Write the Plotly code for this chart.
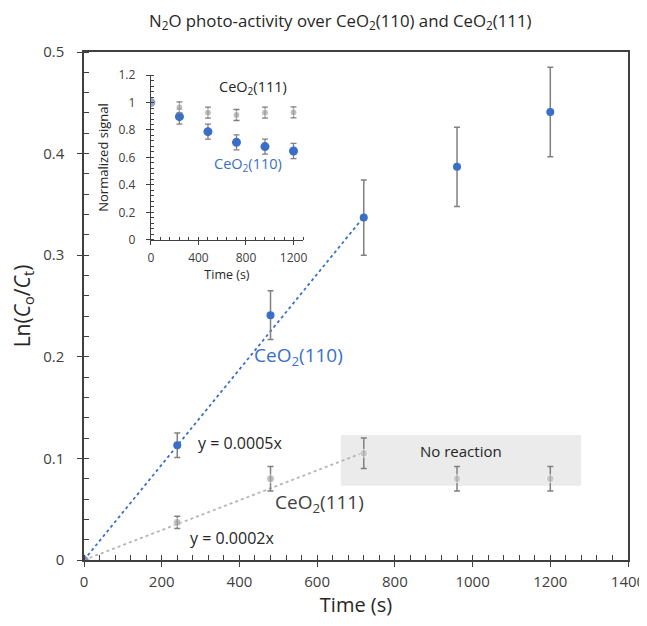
import plotly.graph_objects as go

# ---------------- data ----------------
time_s = [0, 240, 480, 720, 960, 1200]

ln_110 = [0.0, 0.113, 0.241, 0.337, 0.387, 0.441]
ln_110_err = [0.0, 0.012, 0.024, 0.037, 0.039, 0.044]

ln_111 = [0.0, 0.037, 0.080, 0.105, 0.080, 0.080]
ln_111_err = [0.0, 0.006, 0.012, 0.015, 0.012, 0.012]

norm_110 = [1.0, 0.897, 0.788, 0.710, 0.679, 0.647]
norm_110_err = [0.0, 0.055, 0.055, 0.055, 0.055, 0.055]
norm_111 = [1.0, 0.965, 0.926, 0.909, 0.926, 0.928]
norm_111_err = [0.0, 0.04, 0.04, 0.04, 0.04, 0.04]

trend_x = [0, 720]
slope_110 = 0.000469
slope_111 = 0.000147

no_reaction_x = [661, 1279]
no_reaction_y = [0.073, 0.123]

main_xticks = [0, 200, 400, 600, 800, 1000, 1200, 1400]
main_yticks = [0, 0.1, 0.2, 0.3, 0.4, 0.5]
inset_xticks = [0, 400, 800, 1200]
inset_yticks = [0, 0.2, 0.4, 0.6, 0.8, 1.0, 1.2]

# ---------------- style ----------------
FONT = "Open Sans"
AX = "#404040"
TXT = "#262626"
BLUE = "#3a6fc8"
GRAY = "#a6a6a6"
ERR = "#808080"

fig = go.Figure()

# trend lines
fig.add_trace(go.Scatter(x=trend_x, y=[slope_110 * v for v in trend_x], mode="lines",
                         line=dict(color=BLUE, width=1.8, dash="dot"), hoverinfo="skip",
                         showlegend=False))
fig.add_trace(go.Scatter(x=trend_x, y=[slope_111 * v for v in trend_x], mode="lines",
                         line=dict(color="#b5b5b5", width=1.8, dash="dot"), hoverinfo="skip",
                         showlegend=False))

# main data
fig.add_trace(go.Scatter(x=time_s, y=ln_110, mode="markers",
                         marker=dict(color=BLUE, size=8),
                         error_y=dict(type="data", array=ln_110_err, color=ERR, thickness=1.5, width=3),
                         showlegend=False))
fig.add_trace(go.Scatter(x=time_s, y=ln_111, mode="markers",
                         marker=dict(color=["#a0a0a0", "#a6a6a6", "#a6a6a6", "#bdbdbd", "#bdbdbd", "#bdbdbd"],
                                     size=[10, 8, 8, 8, 8, 8],
                                     symbol=["diamond", "circle", "circle", "circle", "circle", "circle"]),
                         error_y=dict(type="data", array=ln_111_err, color=ERR, thickness=1.5, width=3),
                         showlegend=False))

# inset data
fig.add_trace(go.Scatter(x=time_s, y=norm_110, mode="markers", xaxis="x2", yaxis="y2",
                         marker=dict(color=BLUE, size=9),
                         error_y=dict(type="data", array=norm_110_err, color=ERR, thickness=1.3, width=3),
                         showlegend=False))
fig.add_trace(go.Scatter(x=time_s, y=norm_111, mode="markers", xaxis="x2", yaxis="y2",
                         marker=dict(color=["#b4b8c8", GRAY, GRAY, GRAY, GRAY, GRAY], size=[10, 7, 7, 7, 7, 7]),
                         error_y=dict(type="data", array=norm_111_err, color=ERR, thickness=1.3, width=3),
                         showlegend=False))

# "No reaction" box
fig.add_shape(type="rect", xref="x", yref="y", x0=no_reaction_x[0], x1=no_reaction_x[1],
              y0=no_reaction_y[0], y1=no_reaction_y[1], fillcolor="#ebebeb", line=dict(width=0),
              layer="below")

tickfont = dict(family=FONT, size=15, color=AX)


def main_axis(rng, minor_dtick, tickvals):
    return dict(range=rng, tickvals=tickvals, ticks="outside", ticklen=5, tickwidth=1.3,
                tickcolor=AX, showline=True, linecolor=AX, linewidth=1.5, mirror=True,
                showgrid=False, zeroline=False, tickfont=tickfont, automargin=False,
                minor=dict(dtick=minor_dtick, ticks="inside", ticklen=5, tickwidth=1.2,
                           tickcolor=AX, showgrid=False))


xaxis = main_axis([0, 1400], 40, main_xticks)
xaxis.update(title=dict(text="Time (s)", font=dict(family=FONT, size=20, color=TXT), standoff=6),
             ticklabelstandoff=2)
yaxis = main_axis([0, 0.5], 0.02, main_yticks)
yaxis.update(title=dict(text="Ln(<i>C</i><sub>o</sub>/<i>C</i><sub>t</sub>)",
                        font=dict(family=FONT, size=21, color=TXT), standoff=12),
             ticklabelstandoff=10)

inset_font = dict(family=FONT, size=12, color=AX)

# the page body adds an 8 px offset, so the figure is 8 px smaller
fig.update_layout(
    width=639, height=618,
    margin=dict(l=76, r=19, t=44, b=66, autoexpand=False),
    paper_bgcolor="white", plot_bgcolor="white",
    font=dict(family=FONT, color=AX),
    title=dict(text="N<sub>2</sub>O photo-activity over CeO<sub>2</sub>(110) and CeO<sub>2</sub>(111)",
               x=0.52, xanchor="center", y=0.979, yanchor="middle",
               font=dict(family=FONT, size=16.8, color=TXT)),
    xaxis=xaxis,
    yaxis=yaxis,
    # overlay axes for crossing major ticks
    xaxis3=dict(overlaying="x", matches="x", range=[0, 1400], tickvals=main_xticks, ticks="inside",
                ticklen=5, tickwidth=1.3, tickcolor=AX, showticklabels=False, showline=False,
                showgrid=False, zeroline=False, anchor="y"),
    yaxis3=dict(overlaying="y", matches="y", range=[0, 0.5], tickvals=main_yticks, ticks="inside",
                ticklen=5, tickwidth=1.3, tickcolor=AX, showticklabels=False, showline=False,
                showgrid=False, zeroline=False, anchor="x"),
    xaxis2=dict(domain=[0.123, 0.4026], anchor="y2", range=[0, 1280], tickvals=inset_xticks,
                ticks="outside", ticklen=4, tickwidth=1.2, tickcolor=AX, automargin=False,
                showline=True, linecolor=AX, linewidth=1.3, showgrid=False, zeroline=False,
                tickfont=inset_font, ticklabelstandoff=2,
                minor=dict(dtick=80, ticks="inside", ticklen=3, tickwidth=1, tickcolor=AX),
                title=dict(text="Time (s)", font=dict(family=FONT, size=12.5, color=TXT), standoff=0)),
    yaxis2=dict(domain=[0.630, 0.9547], anchor="x2", range=[0, 1.2], tickvals=inset_yticks,
                ticks="outside", ticklen=4, tickwidth=1.2, tickcolor=AX, automargin=False,
                showline=True, linecolor=AX, linewidth=1.3, showgrid=False, zeroline=False,
                tickfont=inset_font, ticklabelstandoff=8,
                minor=dict(dtick=0.04, ticks="inside", ticklen=3, tickwidth=1, tickcolor=AX),
                title=dict(text="Normalized signal", font=dict(family=FONT, size=13, color=TXT),
                           standoff=6)),
)

annotations = [
    dict(x=551, y=0.201, xref="x", yref="y", text="CeO<sub>2</sub>(110)",
         font=dict(family=FONT, size=19, color=BLUE)),
    dict(x=607, y=0.056, xref="x", yref="y", text="CeO<sub>2</sub>(111)",
         font=dict(family=FONT, size=19, color="#404040")),
    dict(x=401, y=0.115, xref="x", yref="y", text="y = 0.0005x",
         font=dict(family=FONT, size=16, color=TXT)),
    dict(x=381, y=0.0217, xref="x", yref="y", text="y = 0.0002x",
         font=dict(family=FONT, size=16, color=TXT)),
    dict(x=970, y=0.107, xref="x", yref="y", text="No reaction",
         font=dict(family=FONT, size=15, color=TXT)),
    dict(x=860, y=1.11, xref="x2", yref="y2", text="CeO<sub>2</sub>(111)",
         font=dict(family=FONT, size=14.5, color=TXT)),
    dict(x=820, y=0.55, xref="x2", yref="y2", text="CeO<sub>2</sub>(110)",
         font=dict(family=FONT, size=14.5, color=BLUE)),
]
for a in annotations:
    a.update(showarrow=False, xanchor="center", yanchor="middle")
fig.update_layout(annotations=annotations)

fig.write_html("out.html")
